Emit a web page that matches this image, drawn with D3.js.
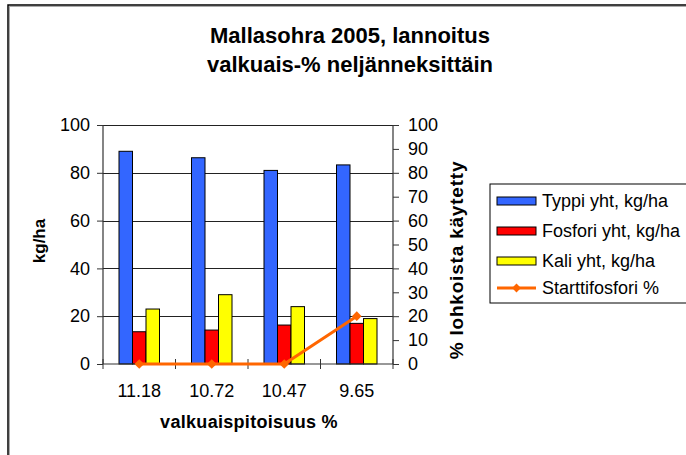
<!DOCTYPE html>
<html>
<head>
<meta charset="utf-8">
<script src="https://cdn.jsdelivr.net/npm/d3@7"></script>
<style>
  body { margin: 0; background: #fff; }
  svg { display: block; font-family: "Liberation Sans", Arial, sans-serif; }
</style>
</head>
<body>
<svg id="chart" width="686" height="455"></svg>
<script>
// --- data ---
const categories = ['11.18', '10.72', '10.47', '9.65'];
const typpi = [89, 86.3, 81, 83.3];
const fosfori = [13.5, 14.2, 16.3, 17];
const kali = [23, 29, 24, 19];
const startti = [0, 0, 0, 20];
const seriesNames = ['Typpi yht, kg/ha', 'Fosfori yht, kg/ha', 'Kali yht, kg/ha'];
const seriesColors = ['#3366ff', '#ff0000', '#ffff00'];
const lineName = 'Starttifosfori %';
const lineColor = '#ff6600';
const leftTicks = [0, 20, 40, 60, 80, 100];
const rightTicks = d3.range(0, 101, 10);

const svg = d3.select('#chart');

// outer frame (runs off at right/bottom like the original)
svg.append('rect').attr('x', 9.5).attr('y', 6.5).attr('width', 700).attr('height', 470)
  .attr('fill', 'none').attr('stroke', '#aaa').attr('stroke-width', 1);
svg.append('rect').attr('x', 8).attr('y', 5).attr('width', 700).attr('height', 470)
  .attr('fill', 'none').attr('stroke', '#000').attr('stroke-width', 1.5);

// title
const title = svg.append('text').attr('text-anchor', 'middle')
  .attr('font-weight', 'bold').attr('font-size', 22);
title.append('tspan').attr('x', 350).attr('y', 43).text('Mallasohra 2005, lannoitus');
title.append('tspan').attr('x', 350).attr('y', 72).text('valkuais-% neljänneksittäin');

const plot = { left: 103, right: 393, top: 125, bottom: 364 };

const x = d3.scaleBand().domain(categories).range([plot.left, plot.right]);
const xInner = d3.scaleBand().domain(d3.range(3)).range([16, x.bandwidth() - 16]);
const yL = d3.scaleLinear().domain([0, 100]).range([plot.bottom, plot.top]);
const yR = d3.scaleLinear().domain([0, 100]).range([plot.bottom, plot.top]);

// gridlines
svg.append('g').selectAll('line').data(leftTicks.slice(1)).join('line')
  .attr('x1', plot.left).attr('x2', plot.right)
  .attr('y1', d => Math.round(yL(d)) + 0.5).attr('y2', d => Math.round(yL(d)) + 0.5)
  .attr('stroke', '#222').attr('stroke-width', 1);

// bars
const values = [typpi, fosfori, kali];
categories.forEach((c, i) => {
  values.forEach((s, k) => {
    svg.append('rect')
      .attr('x', x(c) + xInner(k))
      .attr('y', yL(s[i]))
      .attr('width', xInner.bandwidth())
      .attr('height', plot.bottom - yL(s[i]))
      .attr('fill', seriesColors[k])
      .attr('stroke', '#000').attr('stroke-width', 1);
  });
});

// axes
const axL = svg.append('g').attr('transform', `translate(${plot.left},0)`)
  .call(d3.axisLeft(yL).tickValues(leftTicks).tickSize(6).tickPadding(7));
const axR = svg.append('g').attr('transform', `translate(${plot.right},0)`)
  .call(d3.axisRight(yR).tickValues(rightTicks).tickSize(6).tickPadding(9));
const axB = svg.append('g').attr('transform', `translate(0,${plot.bottom})`)
  .call(d3.axisBottom(x).tickSize(0).tickPadding(20));
// category boundary ticks
svg.append('g').selectAll('line').data(d3.range(categories.length + 1)).join('line')
  .attr('x1', i => plot.left + i * x.step()).attr('x2', i => plot.left + i * x.step())
  .attr('y1', plot.bottom - 5).attr('y2', plot.bottom + 5)
  .attr('stroke', '#333');

[axL, axR, axB].forEach(a => {
  a.selectAll('text').attr('font-size', 18).attr('fill', '#000').attr('font-family', '"Liberation Sans", Arial, sans-serif');
  a.selectAll('line').attr('stroke', '#333');
  a.select('.domain').attr('stroke', '#333').attr('stroke-width', 1.2);
});
axL.select('.domain').attr('d', `M0,${plot.top}V${plot.bottom}`);
axR.select('.domain').attr('d', `M0,${plot.top}V${plot.bottom}`);
axB.select('.domain').attr('d', `M${plot.left},0H${plot.right}`);

// line series on right axis
const lineGen = d3.line().x((d, i) => x(categories[i]) + x.bandwidth() / 2).y(d => yR(d));
svg.append('path').datum(startti).attr('d', lineGen)
  .attr('fill', 'none').attr('stroke', lineColor).attr('stroke-width', 3);
svg.append('g').selectAll('path').data(startti).join('path')
  .attr('transform', (d, i) => `translate(${x(categories[i]) + x.bandwidth() / 2},${yR(d)})`)
  .attr('d', d3.symbol(d3.symbolDiamond2, 60))
  .attr('fill', lineColor);

// axis titles
svg.append('text').attr('transform', 'translate(45,241) rotate(-90)')
  .attr('text-anchor', 'middle').attr('font-weight', 'bold').attr('font-size', 17).text('kg/ha');
svg.append('text').attr('transform', 'translate(463,260) rotate(-90)')
  .attr('text-anchor', 'middle').attr('font-weight', 'bold').attr('font-size', 19)
  .attr('letter-spacing', 0.8).text('% lohkoista käytetty');
svg.append('text').attr('x', 249).attr('y', 428)
  .attr('text-anchor', 'middle').attr('font-weight', 'bold').attr('font-size', 18)
  .attr('letter-spacing', 0.3).text('valkuaispitoisuus %');

// legend
const legend = svg.append('g').attr('transform', 'translate(490,184)');
legend.append('rect').attr('width', 210).attr('height', 119)
  .attr('fill', '#fff').attr('stroke', '#000').attr('stroke-width', 1);
const rowsY = [17, 47, 77, 104];
seriesNames.forEach((n, k) => {
  legend.append('rect').attr('x', 7).attr('y', rowsY[k] - 4).attr('width', 39).attr('height', 8)
    .attr('fill', seriesColors[k]).attr('stroke', '#000').attr('stroke-width', 1);
  legend.append('text').attr('x', 52).attr('y', rowsY[k] + 6).attr('font-size', 18).text(n);
});
legend.append('line').attr('x1', 7).attr('x2', 46).attr('y1', rowsY[3]).attr('y2', rowsY[3])
  .attr('stroke', lineColor).attr('stroke-width', 3);
legend.append('path').attr('transform', `translate(26.5,${rowsY[3]})`)
  .attr('d', d3.symbol(d3.symbolDiamond2, 50)).attr('fill', lineColor);
legend.append('text').attr('x', 52).attr('y', rowsY[3] + 6).attr('font-size', 18).text(lineName);
</script>
</body>
</html>
